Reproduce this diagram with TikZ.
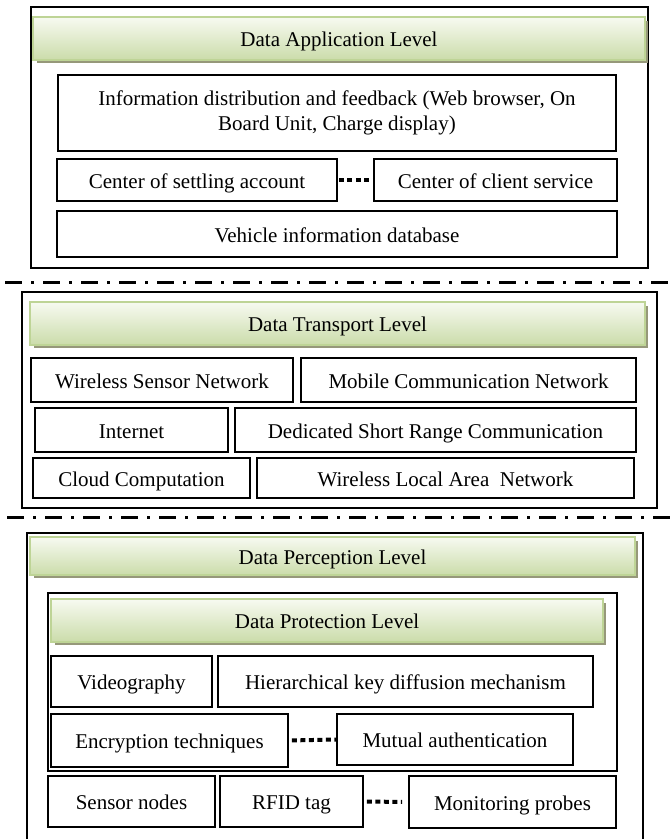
\documentclass[tikz,border=0pt]{standalone}
\usepackage{fontspec}
\setmainfont{Liberation Serif}
\definecolor{hdrtop}{RGB}{247,250,241}
\definecolor{hdrbot}{RGB}{203,220,170}
\definecolor{hdrline}{RGB}{190,212,150}
\definecolor{hdrshadow}{RGB}{150,152,122}
\newcommand\mystrut{\rule[-5pt]{0pt}{26pt}}
\tikzset{
  bx/.style={draw=black, line width=1.6pt, inner sep=0pt, align=center,
             font=\fontsize{21}{24.5}\selectfont,
             execute at begin node=\mystrut, execute at end node=\mystrut},
  outerbox/.style={draw=black, line width=1.6pt, inner sep=0pt},
  hdr/.style={draw=hdrline, line width=1.6pt, top color=hdrtop, bottom color=hdrbot,
              inner sep=0pt, font=\fontsize{21}{24.5}\selectfont,
              execute at begin node=\mystrut},
  sepline/.style={line width=3pt, dash pattern=on 17pt off 9pt on 3pt off 9pt},
  dotline/.style={line width=4pt, dash pattern=on 5pt off 3.5pt},
}
\newcommand\mybox[7][bx]{\node[#1, minimum width={#5-#3}, minimum height={#6-#4}] (#2) at ({(#3+#5)/2},{(#4+#6)/2}) {#7};}
\newcommand\myhdr[6]{\fill[hdrshadow] ({#2+4},{#3+4}) rectangle ({#4+3},{#5+3});
  \node[hdr, minimum width={#4-#2}, minimum height={#5-#3}] (#1) at ({(#2+#4)/2},{(#3+#5)/2}) {#6};}
\begin{document}
\begin{tikzpicture}[x=1pt,y=-1pt]
\useasboundingbox (0,0) rectangle (670,839);
\fill[white] (0,0) rectangle (670,839);
\clip (0,0) rectangle (670,839);

% ---------- Data Application Level ----------
\mybox[outerbox]{app}{31}{7}{648}{268}{}
\myhdr{apphdr}{33}{17}{645}{60}{Data Application Level}
\mybox{info}{58}{75}{616}{151}{Information distribution and feedback (Web browser, On\\ Board Unit, Charge display)}
\mybox{settle}{57}{159}{337}{201}{Center of settling account}
\mybox{client}{374}{159}{617}{201}{Center of client service}
\mybox{vehicle}{57}{211}{617}{257}{Vehicle information database}
\draw[dotline, shorten <=1pt] (settle.east) -- (client.west);

% separator 1
\coordinate (s1a) at (5,282);
\coordinate (s1b) at (672,282);
\draw[sepline] (s1a) -- (s1b);

% ---------- Data Transport Level ----------
\mybox[outerbox]{trans}{22}{292}{657}{508}{}
\myhdr{transhdr}{30}{302}{645}{345}{Data Transport Level}
\mybox{wsn}{31}{358}{293}{402}{Wireless Sensor Network}
\mybox{mcn}{301}{358}{636}{402}{Mobile Communication Network}
\mybox{inet}{35}{408}{228}{452}{Internet}
\mybox{dsrc}{235}{408}{636}{452}{Dedicated Short Range Communication}
\mybox{cloud}{33}{458}{250}{498}{Cloud Computation}
\mybox{wlan}{257}{458}{634}{498}{Wireless Local Area\ \ Network}

% separator 2
\coordinate (s2a) at (7,517);
\coordinate (s2b) at (672,517);
\draw[sepline] (s2a) -- (s2b);

% ---------- Data Perception Level ----------
\mybox[outerbox]{perc}{27}{533}{643}{860}{}
\myhdr{perchdr}{30}{537}{635}{575}{Data Perception Level}
\mybox[outerbox]{prot}{48}{593}{617}{771}{}
\myhdr{prothdr}{51}{599}{603}{642}{Data Protection Level}
\mybox{video}{51}{656}{212}{707}{Videography}
\mybox{hier}{218}{656}{593}{707}{Hierarchical key diffusion mechanism}
\mybox{encr}{51}{714}{288}{767}{Encryption techniques}
\mybox{mutual}{337}{714}{573}{765}{Mutual authentication}
\draw[dotline, shorten <=3pt] (encr.east) -- (mutual.west);
\mybox{sensor}{48}{776}{215}{827}{Sensor nodes}
\mybox{rfid}{220}{776}{363}{827}{RFID tag}
\mybox{monitor}{409}{776}{616}{828}{Monitoring probes}
\draw[dotline, shorten <=3pt, shorten >=6pt] (rfid.east) -- (monitor.west);
\end{tikzpicture}
\end{document}
